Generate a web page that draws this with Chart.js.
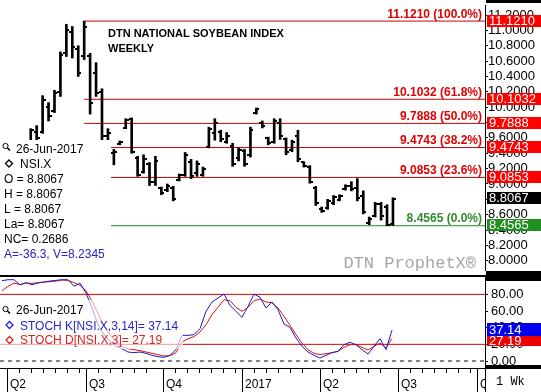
<!DOCTYPE html>
<html>
<head>
<meta charset="utf-8">
<title>DTN National Soybean Index - Weekly</title>
<script src="https://cdn.jsdelivr.net/npm/chart.js@4.4.1/dist/chart.umd.min.js"></script>
<style>
  html, body { margin: 0; padding: 0; background: #fff; }
  #wrap { position: relative; width: 541px; height: 392px; overflow: hidden; }
  #priceChart { position: absolute; left: 0; top: 0; }
  #divider { position: absolute; left: 0; top: 275px; width: 541px; height: 2px; background: #000; }
  #stochChart { position: absolute; left: 0; top: 277px; }
</style>
</head>
<body>
<div id="wrap">
  <canvas id="priceChart" width="541" height="275"></canvas>
  <div id="divider"></div>
  <canvas id="stochChart" width="541" height="115"></canvas>
</div>
<script>
// Weekly OHLC bars, index = week number (week 0 = 28-Mar-2016, week 65 = 26-Jun-2017)
const opens = [8.95, 9.05, 9.25, 9.20, 9.47, 9.68, 9.68, 10.00, 9.95, 10.20,
  10.70, 10.98, 10.76, 10.66, 10.66, 10.45, 10.20, 9.62, 9.40, 9.52,
  9.73, 9.84, 9.34, 9.16, 9.26, 9.02, 8.95, 8.92, 8.95, 9.05,
  9.12, 9.28, 9.14, 9.12, 9.48, 9.66, 9.68, 9.55, 9.50, 9.34,
  9.43, 9.38, 9.92, 9.80, 9.60, 9.55, 9.80, 9.58, 9.44, 9.62,
  9.28, 9.22, 8.95, 8.68, 8.69, 8.75, 8.79, 8.93, 8.98, 8.95,
  8.85, 8.49, 8.58, 8.74, 8.70, 8.48];
const highs = [9.10, 9.30, 9.40, 9.50, 9.72, 9.76, 10.15, 10.06, 10.22, 10.72,
  11.08, 11.05, 10.80, 11.121, 10.70, 10.58, 10.24, 9.72, 9.45, 9.56,
  9.85, 9.86, 9.36, 9.38, 9.28, 9.36, 8.96, 9.00, 8.97, 9.13,
  9.41, 9.32, 9.30, 9.22, 9.74, 9.85, 9.70, 9.67, 9.53, 9.47,
  9.45, 9.74, 9.99, 9.82, 9.61, 9.85, 9.85, 9.60, 9.57, 9.70,
  9.29, 9.24, 8.97, 8.70, 8.80, 8.85, 8.86, 8.99, 9.03, 9.07,
  8.91, 8.57, 8.76, 8.76, 8.73, 8.82];
const lows = [8.90, 9.00, 9.15, 9.18, 9.45, 9.52, 9.66, 9.82, 9.93, 10.14,
  10.66, 10.64, 10.40, 10.62, 9.91, 10.14, 9.57, 9.40, 9.25, 9.51,
  9.72, 9.40, 9.10, 9.14, 8.98, 8.98, 8.86, 8.90, 8.78, 9.04,
  9.10, 9.07, 9.10, 9.10, 9.47, 9.57, 9.55, 9.53, 9.23, 9.30,
  9.23, 9.35, 9.91, 9.73, 9.51, 9.53, 9.58, 9.38, 9.42, 9.29,
  9.22, 9.01, 8.72, 8.63, 8.67, 8.73, 8.78, 8.92, 8.91, 8.78,
  8.61, 8.47, 8.57, 8.53, 8.4565, 8.46];
const closes = [9.05, 9.25, 9.20, 9.45, 9.70, 9.60, 10.10, 9.88, 10.18, 10.68,
  11.00, 10.78, 10.44, 11.04, 10.06, 10.18, 9.62, 9.66, 9.42, 9.55,
  9.83, 9.42, 9.12, 9.32, 9.02, 9.30, 8.88, 8.98, 8.80, 9.12,
  9.38, 9.10, 9.26, 9.20, 9.72, 9.80, 9.58, 9.63, 9.26, 9.44,
  9.26, 9.70, 9.97, 9.76, 9.53, 9.82, 9.62, 9.42, 9.55, 9.32,
  9.24, 9.03, 8.75, 8.65, 8.78, 8.83, 8.85, 8.97, 8.94, 8.82,
  8.63, 8.55, 8.74, 8.58, 8.47, 8.8067];

// Stochastics, same weeks
const stochK = [96.4, 97.6, 97.6, 91.6, 94.0, 91.6, 93.6, 94.8, 96.0, 96.8,
  97.6, 97.6, 89.6, 93.6, 81.6, 63.6, 43.6, 31.6, 23.6, 17.6,
  14.8, 10.8, 10.0, 10.8, 9.2, 6.8, 5.2, 4.4, 6.8, 13.6,
  30.8, 30.8, 31.6, 38.8, 59.6, 70.8, 75.6, 80.4, 66.8, 59.6,
  52.4, 65.6, 80.4, 76.4, 63.6, 70.8, 61.6, 44.4, 40.4, 27.6,
  17.6, 10.8, 6.8, 3.6, 6.8, 10.0, 11.6, 19.6, 22.4, 19.6,
  13.6, 8.4, 17.6, 26.8, 13.6, 37.14];
const stochD = [84.4, 89.6, 93.6, 91.6, 93.6, 93.2, 94.0, 94.8, 95.2, 96.0,
  97.2, 96.8, 94.0, 90.8, 84.4, 71.6, 57.6, 41.6, 31.6, 23.6,
  17.6, 14.8, 13.6, 12.4, 10.8, 9.2, 7.6, 6.0, 6.4, 10.0,
  22.8, 26.8, 29.2, 34.8, 43.6, 55.6, 64.4, 73.6, 72.4, 64.4,
  59.6, 64.4, 72.4, 74.4, 70.8, 70.0, 63.6, 53.6, 42.8, 31.6,
  21.6, 13.6, 9.2, 7.6, 8.8, 10.0, 11.6, 16.4, 19.6, 19.6,
  16.4, 13.2, 17.6, 21.6, 15.6, 27.19];

// Fibonacci retracement, drawn from the high week to the right edge
const fibLevels = [11.1210, 10.1032, 9.7888, 9.4743, 9.0853, 8.4565];
const fibPcts = ['100.0%', '61.8%', '50.0%', '38.2%', '23.6%', '0.0%'];
const fibStartWeek = 13;

const priceTicks = [8.0, 8.2, 8.4, 8.6, 8.8, 9.0, 9.2, 9.4, 9.6, 9.8, 10.0,
  10.2, 10.4, 10.6, 10.8, 11.0, 11.2];
const stochTicks = [0, 20, 40, 60, 80];
const stochLevels = [80, 20];

const quarterLabels = ['Q2', 'Q3', 'Q4', '2017', 'Q2', 'Q3', 'Q4'];
const quarterWeeks = [0.83, 14.0, 26.83, 40.0, 53.0, 66.0, 79.17];

const titleLines = ['DTN NATIONAL SOYBEAN INDEX', 'WEEKLY'];
const infoDate = '26-Jun-2017';
const infoSymbol = 'NSI.X';
const infoRows = ['O = 8.8067', 'H = 8.8067', 'L = 8.8067', 'La= 8.8067', 'NC= 0.2686'];
const infoExtra = 'A=-36.3, V=8.2345';

// ---- look ----
const SANS = '"Liberation Sans", Arial, Helvetica, sans-serif';
const MONO = '"Liberation Mono", "Courier New", monospace';
const RED_LINE = '#c80000', GREEN_LINE = '#2a8a2a';
const RED_TXT = '#e00000', GREEN_TXT = '#2e8b2e';
const RED_BOX = '#ff0000', GREEN_BOX = '#1f8f1f';
const K_LINE = '#1c1cc8', D_LINE = '#e01010', LEVEL_RED = '#d40000';
const K_TXT = '#2626d0', D_TXT = '#e02020', K_BOX = '#0000ee', D_BOX = '#ee0000';

const X_MIN = -1 / 3, X_MAX = 80.5;

Chart.defaults.font.family = SANS;
Chart.defaults.animation = false;

const weeks = opens.map((_, i) => i);
const lastClose = closes[closes.length - 1];
const kLast = stochK[stochK.length - 1];
const dLast = stochD[stochD.length - 1];

function makeTick(side) {
  const c = document.createElement('canvas');
  c.width = 6; c.height = 2;
  const g = c.getContext('2d');
  g.fillStyle = '#000';
  g.fillRect(side === 'open' ? 0 : 3, 0, 3, 2);
  return c;
}

function drawMagnifier(ctx, x, y) {
  ctx.save();
  ctx.strokeStyle = '#000';
  ctx.lineWidth = 1;
  ctx.beginPath();
  ctx.arc(x + 3, y + 3, 2.6, 0, Math.PI * 2);
  ctx.stroke();
  ctx.lineWidth = 1.6;
  ctx.beginPath();
  ctx.moveTo(x + 5, y + 5);
  ctx.lineTo(x + 7.5, y + 7.5);
  ctx.stroke();
  ctx.restore();
}

function drawDiamond(ctx, cx, cy, color) {
  ctx.save();
  ctx.strokeStyle = color;
  ctx.lineWidth = 1.3;
  ctx.beginPath();
  ctx.moveTo(cx, cy - 3.5);
  ctx.lineTo(cx + 3.5, cy);
  ctx.lineTo(cx, cy + 3.5);
  ctx.lineTo(cx - 3.5, cy);
  ctx.closePath();
  ctx.stroke();
  ctx.restore();
}

function axisBox(ctx, cy, text, bg, h, minTop) {
  let y0 = Math.floor(cy - h / 2);
  if (minTop !== undefined) y0 = Math.max(y0, minTop);
  ctx.fillStyle = bg;
  ctx.fillRect(487, y0, 54, h);
  ctx.fillStyle = '#fff';
  ctx.font = '13px ' + SANS;
  ctx.textAlign = 'left';
  ctx.textBaseline = 'middle';
  ctx.fillText(text, 489, y0 + h / 2 + 0.5);
  return y0 + h;
}

const priceOverlay = {
  id: 'priceOverlay',
  afterDatasetsDraw(chart) {
    const { ctx, scales: { y } } = chart;
    ctx.save();
    ctx.textBaseline = 'alphabetic';

    ctx.fillStyle = '#000';
    ctx.font = 'bold 11px ' + SANS;
    ctx.textAlign = 'left';
    ctx.fillText(titleLines[0], 108, 37);
    ctx.fillText(titleLines[1], 108, 52);

    ctx.font = 'bold 12px ' + SANS;
    ctx.textAlign = 'right';
    fibLevels.forEach((v, i) => {
      ctx.fillStyle = i === fibLevels.length - 1 ? GREEN_TXT : RED_TXT;
      ctx.fillText(v.toFixed(4) + ' (' + fibPcts[i] + ')', 482, y.getPixelForValue(v) - 3.5);
    });

    ctx.font = '17px ' + MONO;
    ctx.fillStyle = '#a6a6a6';
    ctx.fillText('DTN ProphetX\u00ae', 476, 267.5);

    // legend box over the lower-left corner
    ctx.fillStyle = '#fff';
    ctx.fillRect(0, 140, 111, 124);
    drawMagnifier(ctx, 2.5, 143);
    ctx.textAlign = 'left';
    ctx.font = '12px ' + SANS;
    ctx.fillStyle = '#000';
    ctx.fillText(infoDate, 16, 152.5);
    drawDiamond(ctx, 9, 163.5, '#000');
    ctx.fillStyle = '#000';
    ctx.fillText(infoSymbol, 20, 167.5);
    infoRows.forEach((t, i) => ctx.fillText(t, 4, 182.5 + 15 * i));
    ctx.fillStyle = '#2323c8';
    ctx.fillText(infoExtra, 4, 257.5);
    ctx.restore();
  },
  afterDraw(chart) {
    const { ctx, scales: { y } } = chart;
    ctx.save();
    ctx.fillStyle = '#000';
    ctx.fillRect(486, 0, 55, 3);
    ctx.fillRect(486, 271, 55, 4);
    fibLevels.forEach((v, i) => {
      axisBox(ctx, y.getPixelForValue(v), v.toFixed(4),
        i === fibLevels.length - 1 ? GREEN_BOX : RED_BOX, 12);
    });
    axisBox(ctx, y.getPixelForValue(lastClose), lastClose.toFixed(4), '#000', 12);
    ctx.restore();
  }
};

const stochOverlay = {
  id: 'stochOverlay',
  afterDatasetsDraw(chart) {
    const { ctx } = chart;
    ctx.save();
    ctx.fillStyle = 'rgba(255,255,255,0.62)';
    ctx.fillRect(0, 23, 183, 49);
    drawMagnifier(ctx, 2.5, 29);
    ctx.font = '12px ' + SANS;
    ctx.textAlign = 'left';
    ctx.textBaseline = 'alphabetic';
    ctx.fillStyle = '#000';
    ctx.fillText(infoDate, 16, 37);
    drawDiamond(ctx, 9.5, 48, K_TXT);
    ctx.fillStyle = K_TXT;
    ctx.fillText('STOCH K[NSI.X,3,14]= ' + kLast.toFixed(2), 20, 52.5);
    drawDiamond(ctx, 9.5, 63, D_TXT);
    ctx.fillStyle = D_TXT;
    ctx.fillText('STOCH D[NSI.X,3]= ' + dLast.toFixed(2), 20, 67);
    ctx.restore();
  },
  afterDraw(chart) {
    const { ctx, chartArea, scales: { x, y } } = chart;
    const bandTop = chartArea.bottom;
    ctx.save();
    ctx.strokeStyle = '#000';
    ctx.lineWidth = 1;
    ctx.beginPath();
    quarterWeeks.forEach((q, i) => {
      const px = Math.round(x.getPixelForValue(q)) + 0.5;
      ctx.moveTo(px, bandTop);
      ctx.lineTo(px, 115);
      const next = i + 1 < quarterWeeks.length ? quarterWeeks[i + 1] : X_MAX + 13;
      for (let w = q + 2; w < next - 1; w += 2) {
        const mx = Math.round(x.getPixelForValue(w)) + 0.5;
        ctx.moveTo(mx, bandTop);
        ctx.lineTo(mx, bandTop + 5);
      }
    });
    ctx.stroke();

    // corner under the value axis
    ctx.fillStyle = '#fff';
    ctx.fillRect(486, bandTop + 1, 55, 115 - bandTop);
    ctx.beginPath();
    ctx.moveTo(485.5, 0);
    ctx.lineTo(485.5, 115);
    ctx.stroke();
    ctx.fillStyle = '#000';
    ctx.font = '12px ' + MONO;
    ctx.textAlign = 'left';
    ctx.textBaseline = 'alphabetic';
    ctx.fillText('1 Wk', 496, 108);
    ctx.fillRect(486, 0, 55, 4);
    ctx.fillRect(486, 88, 55, 4);

    const kBottom = axisBox(ctx, y.getPixelForValue(kLast), kLast.toFixed(2), K_BOX, 13);
    axisBox(ctx, y.getPixelForValue(dLast), dLast.toFixed(2), D_BOX, 10, kBottom);
    ctx.restore();
  }
};

const rightAxis = (min, max, tickList, digits, pad) => ({
  type: 'linear',
  position: 'right',
  min: min,
  max: max,
  afterBuildTicks: s => { s.ticks = tickList.map(v => ({ value: v })); },
  afterFit: s => { s.width = 56; s.paddingTop = 0; s.paddingBottom = 0; },
  ticks: {
    autoSkip: false,
    padding: pad,
    color: '#000',
    font: { size: 13 },
    callback: v => Number(v).toFixed(digits)
  },
  grid: { drawOnChartArea: false, drawTicks: true, tickLength: 3, color: '#000' },
  border: { display: true, color: '#000' }
});

// Price panel
new Chart(document.getElementById('priceChart'), {
  type: 'scatter',
  data: {
    datasets: [
      {
        type: 'bar',
        data: weeks.map(i => ({ x: i, y: [lows[i], highs[i]] })),
        backgroundColor: '#000',
        borderWidth: 0,
        barThickness: 2
      },
      {
        data: weeks.map(i => ({ x: i, y: opens[i] })),
        pointStyle: makeTick('open'),
        pointRadius: 1
      },
      {
        data: weeks.map(i => ({ x: i, y: closes[i] })),
        pointStyle: makeTick('close'),
        pointRadius: 1
      },
      ...fibLevels.map((v, i) => ({
        type: 'line',
        data: [{ x: fibStartWeek, y: v }, { x: X_MAX, y: v }],
        borderColor: i === fibLevels.length - 1 ? GREEN_LINE : RED_LINE,
        borderWidth: 1,
        pointRadius: 0
      }))
    ]
  },
  options: {
    responsive: false,
    animation: false,
    events: [],
    layout: { padding: 0 },
    plugins: { legend: { display: false }, tooltip: { enabled: false } },
    scales: {
      x: { type: 'linear', display: false, min: X_MIN, max: X_MAX, offset: false },
      y: rightAxis(7.880, 11.3305, priceTicks, 4, 0)
    }
  },
  plugins: [priceOverlay]
});

// Stochastic panel
new Chart(document.getElementById('stochChart'), {
  type: 'scatter',
  data: {
    datasets: [
      {
        type: 'line',
        data: weeks.map(i => ({ x: i, y: stochK[i] })),
        borderColor: K_LINE,
        borderWidth: 1,
        pointRadius: 0
      },
      {
        type: 'line',
        data: weeks.map(i => ({ x: i, y: stochD[i] })),
        borderColor: D_LINE,
        borderWidth: 1,
        pointRadius: 0
      },
      ...stochLevels.map(v => ({
        type: 'line',
        data: [{ x: X_MIN, y: v }, { x: X_MAX, y: v }],
        borderColor: LEVEL_RED,
        borderWidth: 1,
        pointRadius: 0
      })),
      {
        type: 'line',
        data: [{ x: X_MIN, y: 0 }, { x: X_MAX, y: 0 }],
        borderColor: '#000',
        borderWidth: 1,
        borderDash: [4, 4],
        pointRadius: 0
      }
    ]
  },
  options: {
    responsive: false,
    animation: false,
    events: [],
    layout: { padding: 0 },
    plugins: { legend: { display: false }, tooltip: { enabled: false } },
    scales: {
      x: {
        type: 'linear',
        position: 'bottom',
        min: X_MIN,
        max: X_MAX,
        offset: false,
        afterBuildTicks: s => { s.ticks = quarterWeeks.map(v => ({ value: v })); },
        afterFit: s => { s.height = 24; s.paddingLeft = 0; s.paddingRight = 0; },
        ticks: {
          autoSkip: false,
          maxRotation: 0,
          align: 'start',
          labelOffset: 3,
          padding: 9,
          color: '#000',
          font: { size: 12 },
          callback: (v, i) => quarterLabels[i]
        },
        grid: { drawOnChartArea: false, drawTicks: false },
        border: { display: true, color: '#000' }
      },
      y: rightAxis(-8.4, 100.84, stochTicks, 2, 3)
    }
  },
  plugins: [stochOverlay]
});
</script>
</body>
</html>
